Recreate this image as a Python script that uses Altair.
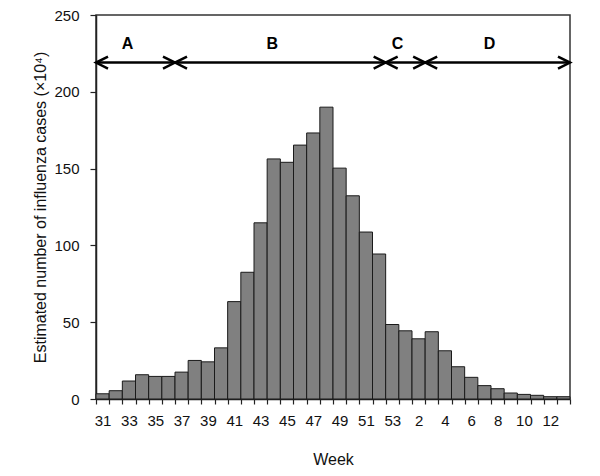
import altair as alt
import pandas as pd

weeks = [str(w) for w in list(range(31, 54)) + list(range(1, 14))]
cases = [3.4, 5.4, 11.7, 15.8, 14.7, 14.7, 17.5, 25.1, 24.2, 33.3, 63.4, 82.5,
         114.7, 156.3, 154.1, 165.3, 173.2, 190.0, 150.3, 132.3, 108.7, 94.4,
         48.5, 44.4, 39.2, 43.8, 31.4, 21.0, 14.1, 8.7, 6.7, 3.9, 3.0, 2.4, 1.5, 1.5]
shown_labels = ["31", "33", "35", "37", "39", "41", "43", "45", "47", "49", "51", "53",
                "2", "4", "6", "8", "10", "12"]

phase_names = ["A", "B", "C", "D"]
phase_start = [0, 6, 22, 25]   # bar index where each phase starts
phase_end = [6, 22, 25, 36]    # bar index where each phase ends
arrow_level = 219
label_level = 231

FONT = "Liberation Sans"

bars_df = pd.DataFrame({"week": weeks, "cases": cases})
phases_df = pd.DataFrame({
    "name": phase_names,
    "start": phase_start,
    "end": phase_end,
    "mid": [(s + e) / 2 for s, e in zip(phase_start, phase_end)],
    "yline": [arrow_level] * 4,
    "ylab": [label_level] * 4,
})

label_list = "[" + ",".join("'" + s + "'" for s in shown_labels) + "]"

yscale = alt.Scale(domain=[0, 250], nice=False)

bars = alt.Chart(bars_df).mark_bar(
    color="#808080", stroke="#1a1a1a", strokeWidth=1
).encode(
    x=alt.X("week:O", sort=weeks,
            scale=alt.Scale(paddingInner=0, paddingOuter=0),
            axis=alt.Axis(title="Week", tickBand="extent", labelAngle=0,
                          labelExpr="indexof(" + label_list + ", datum.label) >= 0 ? datum.label : ''",
                          labelPadding=9, titlePadding=23, tickSize=5)),
    y=alt.Y("cases:Q", scale=yscale,
            axis=alt.Axis(title="Estimated number of influenza cases (×10⁴)",
                          values=list(range(0, 251, 25)),
                          labelExpr="datum.value % 50 == 0 ? datum.label : ''",
                          tickSize=6, labelPadding=11, titlePadding=5, grid=False)),
)

xq = alt.Scale(domain=[0, 36], nice=False, zero=False)

lines = alt.Chart(phases_df).mark_rule(color="black", strokeWidth=2.5).encode(
    x=alt.X("start:Q", scale=xq, axis=None),
    x2="end:Q",
    y=alt.Y("yline:Q", scale=yscale),
)

right_heads = alt.Chart(phases_df).mark_point(
    shape="M-2,-1L0,0L-2,1", filled=False, stroke="black", strokeWidth=2.5,
    size=144, opacity=1
).encode(
    x=alt.X("end:Q", scale=xq, axis=None),
    y=alt.Y("yline:Q", scale=yscale),
)

left_heads = alt.Chart(phases_df).mark_point(
    shape="M2,-1L0,0L2,1", filled=False, stroke="black", strokeWidth=2.5,
    size=144, opacity=1
).encode(
    x=alt.X("start:Q", scale=xq, axis=None),
    y=alt.Y("yline:Q", scale=yscale),
)

labels = alt.Chart(phases_df).mark_text(
    font=FONT, fontSize=16, fontWeight="bold", color="black", dx=-8
).encode(
    x=alt.X("mid:Q", scale=xq, axis=None),
    y=alt.Y("ylab:Q", scale=yscale),
    text="name:N",
)

arrows = alt.layer(lines, right_heads, left_heads, labels)

chart = alt.layer(bars, arrows).resolve_scale(x="independent").properties(
    width=474, height=384,
    autosize=alt.AutoSizeParams(type="none"),
    padding={"left": 88, "top": 7, "right": 22, "bottom": 70},
).configure_view(
    stroke="#333333", strokeWidth=1.5
).configure_axis(
    domainColor="#222222", domainWidth=1.5, tickColor="#222222", tickWidth=1.2,
    labelFont=FONT, labelFontSize=15, labelColor="#111111",
    titleFont=FONT, titleFontSize=16, titleFontWeight="normal", titleColor="#111111",
)

chart.save("out.html", embed_options={"renderer": "svg", "actions": False})
